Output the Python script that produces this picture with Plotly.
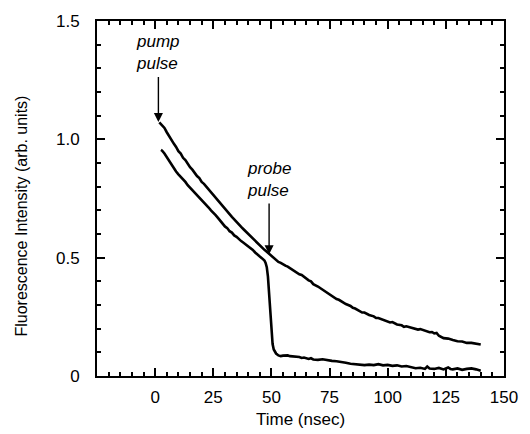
import plotly.graph_objects as go

# Pump-only fluorescence decay (upper trace)
t_pump = [1.8, 3, 4, 5, 6, 7, 8, 9, 10, 11, 12, 13, 14, 15, 16, 17, 18, 19, 20,
          21, 22, 23, 24, 25, 26, 27, 28, 29, 30, 31, 32, 33, 34, 35, 36, 37, 38,
          39, 40, 41, 42, 43, 44, 45, 46, 47, 48, 49, 50, 51, 52, 53, 54, 55, 56,
          57, 58, 59, 60, 62, 63, 64, 66, 67, 68, 70, 72, 73, 74, 76, 78, 79, 80,
          82, 84, 85, 86, 88, 89, 90, 91, 92, 94, 95, 96, 98, 100, 101, 102, 104,
          106, 107, 108, 110, 112, 113, 114, 116, 118, 119, 120, 121, 122, 124,
          126, 128, 130, 132, 134, 136, 138, 140]
i_pump = [1.072, 1.058, 1.048, 1.030, 1.012, 1.000, 0.982, 0.968, 0.950, 0.940,
          0.922, 0.912, 0.895, 0.882, 0.872, 0.858, 0.845, 0.836, 0.820, 0.812,
          0.800, 0.790, 0.775, 0.768, 0.752, 0.740, 0.730, 0.716, 0.704, 0.694,
          0.682, 0.672, 0.662, 0.650, 0.640, 0.630, 0.620, 0.610, 0.601, 0.592,
          0.580, 0.572, 0.562, 0.553, 0.543, 0.533, 0.525, 0.516, 0.508, 0.500,
          0.492, 0.482, 0.478, 0.470, 0.466, 0.462, 0.455, 0.448, 0.441, 0.430,
          0.427, 0.418, 0.404, 0.400, 0.388, 0.378, 0.365, 0.358, 0.350, 0.338,
          0.325, 0.322, 0.316, 0.304, 0.296, 0.288, 0.285, 0.275, 0.268, 0.268,
          0.262, 0.258, 0.252, 0.245, 0.245, 0.238, 0.232, 0.226, 0.228, 0.218,
          0.214, 0.208, 0.210, 0.204, 0.200, 0.196, 0.198, 0.192, 0.185, 0.186,
          0.180, 0.182, 0.170, 0.160, 0.158, 0.152, 0.147, 0.146, 0.140, 0.140,
          0.135, 0.133]

# Pump + probe fluorescence (lower trace)
t_probe = [2.5, 3, 4, 5, 6, 7, 8, 9, 10, 11, 12, 13, 14, 15, 16, 17, 18, 19, 20,
           21, 22, 23, 24, 25, 26, 27, 28, 29, 30, 31, 32, 33, 34, 35, 36, 37, 38,
           39, 40, 41, 42, 43, 44, 45, 46, 47, 47.5, 48, 48.5, 49, 49.5, 50, 50.5,
           51, 52, 53, 54, 55, 56, 57, 58, 60, 62, 63, 64, 66, 67, 68, 70, 72, 74,
           76, 78, 80, 82, 84, 86, 88, 90, 92, 94, 96, 98, 100, 102, 104, 106, 108,
           110, 112, 114, 116, 117, 118, 120, 122, 124, 126, 127, 128, 130, 132,
           134, 136, 138, 140]
i_probe = [0.955, 0.952, 0.940, 0.925, 0.905, 0.890, 0.878, 0.864, 0.852, 0.842,
           0.830, 0.820, 0.806, 0.796, 0.785, 0.774, 0.765, 0.754, 0.745, 0.734,
           0.722, 0.712, 0.700, 0.692, 0.680, 0.668, 0.656, 0.644, 0.632, 0.625,
           0.612, 0.606, 0.594, 0.588, 0.578, 0.570, 0.563, 0.556, 0.549, 0.540,
           0.533, 0.522, 0.515, 0.505, 0.497, 0.488, 0.478, 0.460, 0.420, 0.340,
           0.250, 0.180, 0.135, 0.112, 0.095, 0.087, 0.084, 0.086, 0.088, 0.087,
           0.084, 0.083, 0.080, 0.076, 0.078, 0.072, 0.075, 0.070, 0.068, 0.071,
           0.066, 0.064, 0.062, 0.060, 0.056, 0.052, 0.049, 0.047, 0.046, 0.048,
           0.046, 0.050, 0.045, 0.047, 0.043, 0.045, 0.040, 0.042, 0.036, 0.033,
           0.035, 0.030, 0.040, 0.032, 0.030, 0.034, 0.028, 0.036, 0.030, 0.028,
           0.032, 0.026, 0.030, 0.032, 0.028, 0.022]

x_ticks = [0, 25, 50, 75, 100, 125, 150]
y_ticks = [0, 0.5, 1.0, 1.5]
y_tick_text = ["0", "0.5", "1.0", "1.5"]

pump_arrow = {"x": 1.4, "tip": 1.073, "tail": 1.27, "label": "pump<br>pulse"}
probe_arrow = {"x": 49, "tip": 0.514, "tail": 0.735, "label": "probe<br>pulse"}

FONT = "Liberation Sans, Arial, Helvetica, sans-serif"
LINE = dict(color="black", width=2.6)

fig = go.Figure()
fig.add_trace(go.Scatter(x=t_pump, y=i_pump, mode="lines", line=LINE,
                         showlegend=False, hoverinfo="skip"))
fig.add_trace(go.Scatter(x=t_probe, y=i_probe, mode="lines", line=LINE,
                         showlegend=False, hoverinfo="skip"))
# same data on the mirrored (top/right) axes so their minor ticks are drawn
fig.add_trace(go.Scatter(x=t_pump, y=i_pump, mode="lines", xaxis="x2", yaxis="y2",
                         line=dict(color="rgba(0,0,0,0)", width=0),
                         showlegend=False, hoverinfo="skip"))

for a in (pump_arrow, probe_arrow):
    fig.add_annotation(x=a["x"], y=a["tip"], ax=a["x"], ay=a["tail"],
                       xref="x", yref="y", axref="x", ayref="y", text="",
                       showarrow=True, arrowhead=2, arrowsize=1.3, arrowwidth=1.4,
                       arrowcolor="black")
    fig.add_annotation(x=a["x"], y=a["tail"], xref="x", yref="y",
                       text="<i>" + a["label"] + "</i>", showarrow=False,
                       xanchor="center", yanchor="bottom", align="left",
                       font=dict(family=FONT, size=17, color="black"))

fig.add_annotation(x=-0.186, y=0.45, xref="paper", yref="paper",
                   text="Fluorescence Intensity (arb. units)", textangle=-90,
                   xanchor="center", yanchor="middle",
                   showarrow=False, font=dict(family=FONT, size=16, color="black"))
fig.add_annotation(x=0.5, y=-0.122, xref="paper", yref="paper",
                   text="Time (nsec)", showarrow=False, xanchor="center",
                   yanchor="middle",
                   font=dict(family=FONT, size=17, color="black"))

tick_style = dict(ticks="inside", tickcolor="black", tickwidth=1.5, ticklen=8,
                  showgrid=False, zeroline=False)
x_minor = dict(ticks="inside", ticklen=4, tickwidth=1.5, dtick=5, tick0=0,
               tickcolor="black", showgrid=False)
y_minor = dict(ticks="inside", ticklen=4, tickwidth=1.5, dtick=0.1, tick0=0,
               tickcolor="black", showgrid=False)

fig.update_layout(
    width=530, height=434, margin=dict(l=97, r=15, t=14, b=58),
    plot_bgcolor="white", paper_bgcolor="white",
    xaxis=dict(range=[-25, 150], tickmode="array", tickvals=x_ticks,
               ticklabelstandoff=5, showline=True, linecolor="black", linewidth=2,
               mirror=True, minor=x_minor,
               tickfont=dict(family=FONT, size=17, color="black"), **tick_style),
    yaxis=dict(range=[0, 1.5], tickmode="array", tickvals=y_ticks,
               ticktext=y_tick_text, ticklabelstandoff=12, showline=True,
               linecolor="black", linewidth=2, mirror=True, minor=y_minor,
               tickfont=dict(family=FONT, size=17, color="black"), **tick_style),
    xaxis2=dict(range=[-25, 150], overlaying="x", side="top", anchor="y2",
                tickmode="array", tickvals=x_ticks, showticklabels=False,
                minor=x_minor, **tick_style),
    yaxis2=dict(range=[0, 1.5], overlaying="y", side="right", anchor="x2",
                tickmode="array", tickvals=y_ticks, showticklabels=False,
                minor=y_minor, **tick_style),
)

fig.write_html("out.html")
